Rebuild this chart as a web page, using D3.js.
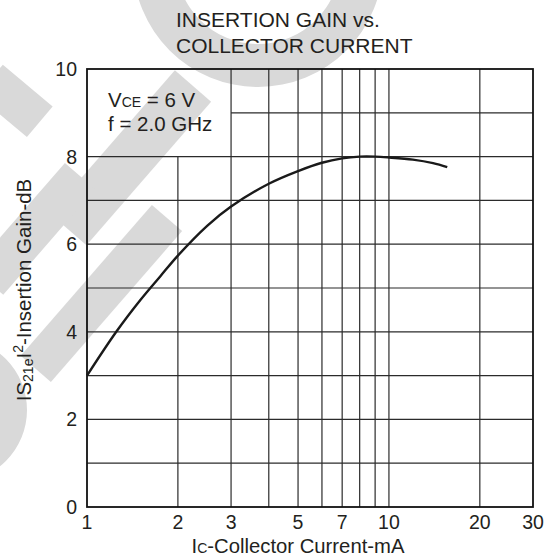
<!DOCTYPE html>
<html>
<head>
<meta charset="utf-8">
<script src="https://cdn.jsdelivr.net/npm/d3@7"></script>
<style>
  body { margin: 0; background: #fff; }
  text { font-family: "Liberation Sans", Arial, sans-serif; fill: #231f20; }
</style>
</head>
<body>
<div id="chart"></div>
<script>
// data
const collectorCurrent = [1, 1.25, 1.5, 1.75, 2, 2.5, 3, 4, 5, 6, 7, 8, 9, 10, 12, 14, 15.6]
const insertionGain = [3.0, 4.0, 4.72, 5.27, 5.74, 6.42, 6.86, 7.38, 7.67, 7.86, 7.96, 8.0, 8.0, 7.98, 7.93, 7.85, 7.76]

const xTickLabels = [1, 2, 3, 5, 7, 10, 20, 30]
const xGridValues = [2, 3, 4, 5, 6, 7, 8, 9, 10, 20]
const yTickLabels = [0, 2, 4, 6, 8, 10]
const yGridValues = [1, 2, 3, 4, 5, 6, 7, 8, 9]

// canvas
const width = 544,
  height = 558,
  plotLeft = 87,
  plotRight = 533,
  plotTop = 69,
  plotBottom = 507

let svg = d3.select('#chart')
  .append('svg')
  .attr('width', width)
  .attr('height', height)

// faint watermark behind the chart
let wm = svg.append('g').attr('fill', '#d9d9d9')
wm.append('path')
  .attr('transform', 'translate(258,-38)')
  .attr('d', d3.arc().innerRadius(82).outerRadius(125).startAngle(0).endAngle(2 * Math.PI)())
let band = (x, y, len, w, angle) => {
  wm.append('rect')
    .attr('x', 0).attr('y', -w / 2)
    .attr('width', len).attr('height', w)
    .attr('transform', `translate(${x},${y}) rotate(${angle})`)
}
band(193, 86, 190, 48, 131)
band(167, 218, 200, 40, 131)
band(80, 176, 140, 40, 131)
band(-10, 80, 65, 40, 40)
wm.append('path')
  .attr('transform', 'translate(-45,410)')
  .attr('d', d3.arc().innerRadius(40).outerRadius(72).startAngle(0).endAngle(Math.PI)())

let x = d3.scaleLog().domain([1, 30]).range([plotLeft, plotRight])
let y = d3.scaleLinear().domain([0, 10]).range([plotBottom, plotTop])

// grid, leaving the note box in the top-left corner open
let grid = svg.append('g').attr('stroke', '#2b2b2b').attr('stroke-width', 1.2)
grid.selectAll('.h')
  .data(yGridValues)
  .enter()
  .append('line')
  .attr('x1', d => d > 8 ? x(3) : x(1))
  .attr('x2', x(30))
  .attr('y1', d => y(d))
  .attr('y2', d => y(d))
grid.selectAll('.v')
  .data(xGridValues)
  .enter()
  .append('line')
  .attr('x1', d => x(d))
  .attr('x2', d => x(d))
  .attr('y1', d => d < 3 ? y(8) : y(10))
  .attr('y2', y(0))

svg.append('rect')
  .attr('x', plotLeft).attr('y', plotTop)
  .attr('width', plotRight - plotLeft).attr('height', plotBottom - plotTop)
  .attr('fill', 'none')
  .attr('stroke', '#111')
  .attr('stroke-width', 1.8)

// the curve
let line = d3.line()
  .x(d => x(d[0]))
  .y(d => y(d[1]))
  .curve(d3.curveCatmullRom.alpha(0.5))

svg.append('path')
  .datum(d3.zip(collectorCurrent, insertionGain))
  .attr('d', line)
  .attr('fill', 'none')
  .attr('stroke', '#1a1a1a')
  .attr('stroke-width', 2.4)

// tick labels
svg.selectAll('.xl')
  .data(xTickLabels)
  .enter()
  .append('text')
  .attr('x', d => x(d))
  .attr('y', 529)
  .attr('text-anchor', 'middle')
  .attr('font-size', 19.5)
  .text(d => d)

svg.selectAll('.yl')
  .data(yTickLabels)
  .enter()
  .append('text')
  .attr('x', 77)
  .attr('y', d => y(d) + 7)
  .attr('text-anchor', 'end')
  .attr('font-size', 19.5)
  .text(d => d)

// title
let title = svg.append('text').attr('font-size', 21)
title.append('tspan').attr('x', 176).attr('y', 27).text('INSERTION GAIN vs.')
title.append('tspan').attr('x', 176).attr('y', 53).text('COLLECTOR CURRENT')

// note
let note = svg.append('text').attr('font-size', 20.5)
note.append('tspan').attr('x', 108).attr('y', 107).text('V')
note.append('tspan').attr('font-size', 14).text('CE')
note.append('tspan').attr('font-size', 20.5).text(' = 6 V')
svg.append('text').attr('font-size', 20.5).attr('x', 108).attr('y', 131).text('f = 2.0 GHz')

// axis titles
let xt = svg.append('text')
  .attr('x', 298)
  .attr('y', 553)
  .attr('text-anchor', 'middle')
  .attr('font-size', 20.3)
xt.append('tspan').text('I')
xt.append('tspan').attr('font-size', 14).text('C')
xt.append('tspan').text('-Collector Current-mA')

let yt = svg.append('text')
  .attr('transform', 'translate(31,290) rotate(-90)')
  .attr('text-anchor', 'middle')
  .attr('font-size', 20.5)
yt.append('tspan').text('IS')
yt.append('tspan').attr('font-size', 14).attr('dy', 2).text('21e')
yt.append('tspan').attr('font-size', 20.5).attr('dy', -2).text('I')
yt.append('tspan').attr('font-size', 14).attr('dy', -8).text('2')
yt.append('tspan').attr('font-size', 20.5).attr('dy', 8).text('-Insertion Gain-dB')
</script>
</body>
</html>
